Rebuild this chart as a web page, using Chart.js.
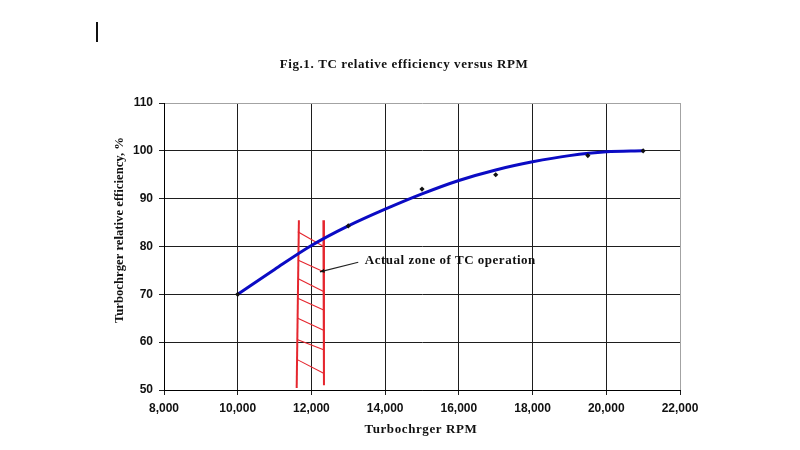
<!DOCTYPE html>
<html lang="en">
<head>
<meta charset="UTF-8">
<title>TC relative efficiency versus RPM</title>
<script src="https://cdn.jsdelivr.net/npm/chart.js"></script>
<style>
  body { margin: 0; background: #fff; }
  .wrap { position: relative; width: 800px; height: 450px; }
  .cursor { position: absolute; left: 96px; top: 22px; width: 2px; height: 20px; background: #111; }
</style>
</head>
<body>
<div class="wrap">
  <div class="cursor"></div>
  <canvas id="effChart" width="800" height="450"></canvas>
</div>
<script>
// trend curve
const curveRpm = [10000, 11000, 12000, 13000, 14000, 15000, 16000, 17000, 18000, 19000, 20000, 21000];
const curveEff = [70, 75.2, 80.2, 84.3, 87.8, 91.0, 93.8, 96.0, 97.7, 99.0, 99.8, 100];

// measured points (small black diamonds)
const pointRpm = [10000, 13000, 15000, 17000, 19500, 21000];
const pointEff = [70, 84.3, 92, 95, 99, 100];

// hatched zone of TC operation
const zoneLeftRpm = [11660, 11600];
const zoneLeftEff = [85.5, 50.4];
const zoneRightRpm = [12325, 12340];
const zoneRightEff = [85.5, 51.0];
const hatchRpm = [11630, 12330];
const hatchStartEff = [83.1, 77.2, 73.3, 69.2, 65.0, 60.5, 56.3];
const hatchEndEff = [80.0, 74.7, 70.6, 66.7, 62.5, 58.4, 53.5];

// callout
const arrowRpm = [13270, 12230];
const arrowEff = [76.7, 74.7];
const calloutRpm = 13450;
const calloutEff = 77.0;
const calloutText = 'Actual zone of TC operation';

const xTicks = [8000, 10000, 12000, 14000, 16000, 18000, 20000, 22000];
const yTicks = [50, 60, 70, 80, 90, 100, 110];

const chartTitle = 'Fig.1. TC relative efficiency versus RPM';
const xTitle = 'Turbochrger RPM';
const yTitle = 'Turbochrger relative efficiency, %';

const serif = '"Liberation Serif", "Times New Roman", serif';
const red = '#e5262e';

function pts(xs, ys) {
  return xs.map((x, i) => ({ x: x, y: ys[i] }));
}

const datasets = [
  {
    data: pts(pointRpm, pointEff),
    pointStyle: 'rectRot',
    pointRadius: 2.6,
    backgroundColor: '#111',
    borderColor: '#111',
    borderWidth: 0,
    showLine: false
  },
  {
    data: pts(curveRpm, curveEff),
    showLine: true,
    borderColor: '#0b0bc4',
    borderWidth: 3,
    pointRadius: 0,
    cubicInterpolationMode: 'monotone'
  },
  {
    data: pts(arrowRpm, arrowEff),
    showLine: true,
    borderColor: '#222',
    borderWidth: 1.2,
    pointRadius: 0
  },
  {
    data: pts(zoneLeftRpm, zoneLeftEff),
    showLine: true, borderColor: red, borderWidth: 2, pointRadius: 0
  },
  {
    data: pts(zoneRightRpm, zoneRightEff),
    showLine: true, borderColor: red, borderWidth: 2, pointRadius: 0
  }
];

hatchStartEff.forEach((s, i) => {
  datasets.push({
    data: pts(hatchRpm, [s, hatchEndEff[i]]),
    showLine: true, borderColor: red, borderWidth: 1.1, pointRadius: 0
  });
});

// titles, callout text and arrow head
const textPlugin = {
  id: 'textPlugin',
  afterDraw(chart) {
    const ctx = chart.ctx;
    const xs = chart.scales.x, ys = chart.scales.y;
    ctx.save();
    ctx.fillStyle = '#111';
    ctx.textBaseline = 'middle';
    ctx.font = 'bold 13px ' + serif;
    ctx.letterSpacing = '0.6px';

    ctx.textAlign = 'center';
    ctx.fillText(chartTitle, 404, 65);
    ctx.fillText(xTitle, 421, 430);

    ctx.textAlign = 'left';
    ctx.letterSpacing = '0.5px';
    ctx.fillText(calloutText, xs.getPixelForValue(calloutRpm), ys.getPixelForValue(calloutEff));

    ctx.save();
    ctx.letterSpacing = '0px';
    ctx.font = 'bold 12.7px ' + serif;
    ctx.textAlign = 'center';
    ctx.translate(120, 230);
    ctx.rotate(-Math.PI / 2);
    ctx.fillText(yTitle, 0, 0);
    ctx.restore();

    // arrow head
    const x0 = xs.getPixelForValue(arrowRpm[0]), y0 = ys.getPixelForValue(arrowEff[0]);
    const x1 = xs.getPixelForValue(arrowRpm[1]), y1 = ys.getPixelForValue(arrowEff[1]);
    const a = Math.atan2(y1 - y0, x1 - x0);
    ctx.beginPath();
    ctx.moveTo(x1, y1);
    ctx.lineTo(x1 - 5 * Math.cos(a - 0.4), y1 - 5 * Math.sin(a - 0.4));
    ctx.lineTo(x1 - 5 * Math.cos(a + 0.4), y1 - 5 * Math.sin(a + 0.4));
    ctx.closePath();
    ctx.fill();
    ctx.restore();
  }
};

const whiteBg = {
  id: 'whiteBg',
  beforeDraw(chart) {
    const ctx = chart.ctx;
    ctx.save();
    ctx.fillStyle = '#fff';
    ctx.fillRect(0, 0, chart.width, chart.height);
    ctx.restore();
  }
};

new Chart(document.getElementById('effChart'), {
  type: 'scatter',
  data: { datasets: datasets },
  plugins: [whiteBg, textPlugin],
  options: {
    responsive: false,
    animation: false,
    layout: { padding: { left: 100, top: 103, right: 120, bottom: 20 } },
    plugins: {
      legend: { display: false },
      tooltip: { enabled: false }
    },
    scales: {
      x: {
        type: 'linear',
        min: xTicks[0],
        max: xTicks[xTicks.length - 1],
        afterFit(scale) { scale.height = 40; },
        ticks: {
          stepSize: xTicks[1] - xTicks[0],
          padding: 6,
          color: '#111',
          font: { family: '"Liberation Sans", Arial, sans-serif', size: 12, weight: 'bold' },
          callback: v => v.toLocaleString('en-US')
        },
        grid: {
          color: c => (c.tick && c.tick.value === xTicks[xTicks.length - 1]) ? '#a3a3a3' : '#1e1e1e',
          tickColor: '#1e1e1e',
          tickLength: 5,
          lineWidth: 1
        },
        border: { color: '#000', width: 1 }
      },
      y: {
        min: yTicks[0],
        max: yTicks[yTicks.length - 1],
        afterFit(scale) { scale.width = 64; },
        ticks: {
          stepSize: yTicks[1] - yTicks[0],
          padding: 6,
          color: '#111',
          font: { family: '"Liberation Sans", Arial, sans-serif', size: 12, weight: 'bold' }
        },
        grid: {
          color: c => (c.tick && c.tick.value === yTicks[yTicks.length - 1]) ? '#a3a3a3' : '#1e1e1e',
          tickColor: '#1e1e1e',
          tickLength: 5,
          lineWidth: 1
        },
        border: { color: '#000', width: 1 }
      }
    }
  }
});
</script>
</body>
</html>
